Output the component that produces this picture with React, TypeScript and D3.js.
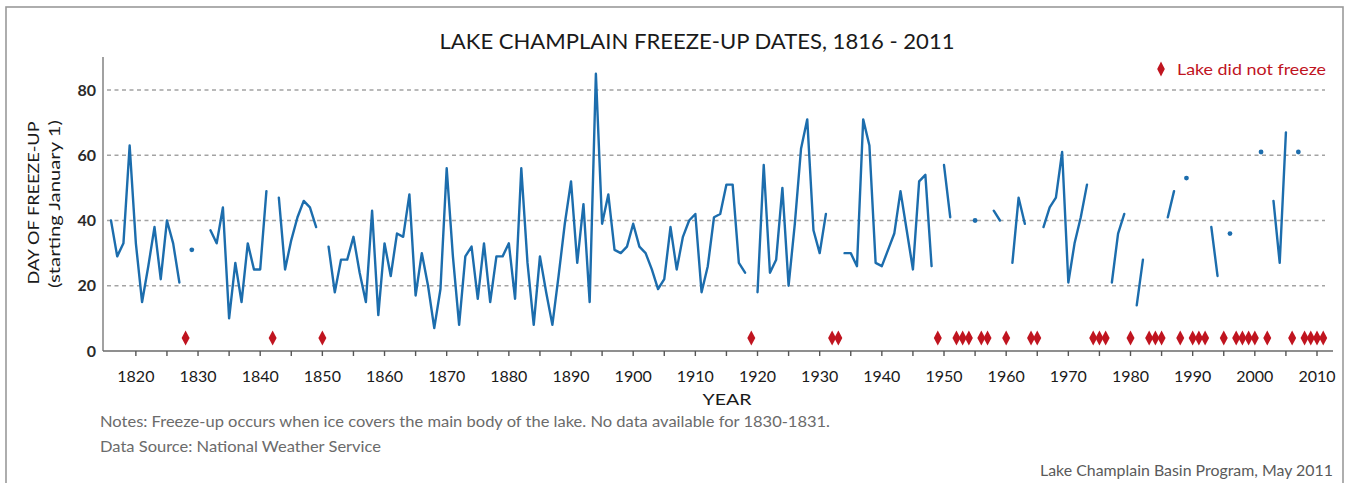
import React from "react";
import * as d3 from "d3";

// Years with a recorded freeze-up and the day of freeze-up (days after January 1)
const freezeYears = [
  1816, 1817, 1818, 1819, 1820, 1821, 1822, 1823, 1824, 1825, 1826, 1827, 1829,
  1832, 1833, 1834, 1835, 1836, 1837, 1838, 1839, 1840, 1841, 1843, 1844, 1845,
  1846, 1847, 1848, 1849, 1851, 1852, 1853, 1854, 1855, 1856, 1857, 1858, 1859,
  1860, 1861, 1862, 1863, 1864, 1865, 1866, 1867, 1868, 1869, 1870, 1871, 1872,
  1873, 1874, 1875, 1876, 1877, 1878, 1879, 1880, 1881, 1882, 1883, 1884, 1885,
  1886, 1887, 1888, 1889, 1890, 1891, 1892, 1893, 1894, 1895, 1896, 1897, 1898,
  1899, 1900, 1901, 1902, 1903, 1904, 1905, 1906, 1907, 1908, 1909, 1910, 1911,
  1912, 1913, 1914, 1915, 1916, 1917, 1918, 1920, 1921, 1922, 1923, 1924, 1925,
  1926, 1927, 1928, 1929, 1930, 1931, 1934, 1935, 1936, 1937, 1938, 1939, 1940,
  1941, 1942, 1943, 1944, 1945, 1946, 1947, 1948, 1950, 1951, 1955, 1958, 1959,
  1961, 1962, 1963, 1966, 1967, 1968, 1969, 1970, 1971, 1972, 1973, 1977, 1978,
  1979, 1981, 1982, 1986, 1987, 1989, 1993, 1994, 1996, 2001, 2003, 2004, 2005,
  2007,
];
const freezeDays = [
  40, 29, 33, 63, 33, 15, 26, 38, 22, 40, 33, 21, 31,
  37, 33, 44, 10, 27, 15, 33, 25, 25, 49, 47, 25, 34,
  41, 46, 44, 38, 32, 18, 28, 28, 35, 24, 15, 43, 11,
  33, 23, 36, 35, 48, 17, 30, 20, 7, 19, 56, 29, 8,
  29, 32, 16, 33, 15, 29, 29, 33, 16, 56, 27, 8, 29,
  18, 8, 23, 39, 52, 27, 45, 15, 85, 39, 48, 31, 30,
  32, 39, 32, 30, 25, 19, 22, 38, 25, 35, 40, 42, 18,
  26, 41, 42, 51, 51, 27, 24, 18, 57, 24, 28, 50, 20,
  39, 62, 71, 37, 30, 42, 30, 30, 26, 71, 63, 27, 26,
  31, 36, 49, 37, 25, 52, 54, 26, 57, 41, 40, 43, 40,
  27, 47, 39, 38, 44, 47, 61, 21, 33, 41, 51, 21, 36,
  42, 14, 28, 41, 49, 53, 38, 23, 36, 61, 46, 27, 67,
  61,
];
// Winters in which the lake did not freeze
const noFreezeYears = [
  1828, 1842, 1850, 1919, 1932, 1933, 1949, 1952, 1953, 1954, 1956, 1957, 1960,
  1964, 1965, 1974, 1975, 1976, 1980, 1983, 1984, 1985, 1988, 1990, 1991, 1992,
  1995, 1997, 1998, 1999, 2000, 2002, 2006, 2008, 2009, 2010, 2011,
];
const firstYear = 1816;
const lastYear = 2011;
const yTicks = [0, 20, 40, 60, 80];
const xLabelTicks = [1820, 1830, 1840, 1850, 1860, 1870, 1880, 1890, 1900, 1910, 1920, 1930, 1940, 1950, 1960, 1970, 1980, 1990, 2000, 2010];
const xMinorTicks = [1825, 1835, 1845, 1855, 1865, 1875, 1885, 1895, 1905, 1915, 1925, 1935, 1945, 1955, 1965, 1975, 1985, 1995, 2005];

const title = "LAKE CHAMPLAIN FREEZE-UP DATES, 1816 - 2011";
const legendLabel = "Lake did not freeze";
const yTitle1 = "DAY OF FREEZE-UP";
const yTitle2 = "(starting January 1)";
const xTitle = "YEAR";
const note1 = "Notes: Freeze-up occurs when ice covers the main body of the lake. No data available for 1830-1831.";
const note2 = "Data Source: National Weather Service";
const credit = "Lake Champlain Basin Program, May 2011";

const W = 1349;
const H = 483;
const FONT = "Lato, 'Open Sans', 'DejaVu Sans', sans-serif";
const BLUE = "#1c6dad";
const RED = "#c0141f";

const diamond = (cx: number, cy: number, hw: number, hh: number) =>
  `M${cx},${cy - hh}L${cx + hw},${cy}L${cx},${cy + hh}L${cx - hw},${cy}Z`;

export default function App() {
  const x = d3.scaleLinear().domain([1816, 2010]).range([111, 1317]);
  const y = d3.scaleLinear().domain([0, 80]).range([351, 90]);

  const byYear = new Map<number, number>();
  freezeYears.forEach((yr, i) => byYear.set(yr, freezeDays[i]));
  const series = d3.range(firstYear, lastYear + 1).map((yr) => ({
    year: yr,
    v: byYear.has(yr) ? (byYear.get(yr) as number) : null,
  }));

  const line = d3
    .line<{ year: number; v: number | null }>()
    .defined((d) => d.v !== null)
    .x((d) => x(d.year))
    .y((d) => y(d.v as number));

  const isolated = series.filter(
    (d) => d.v !== null && !byYear.has(d.year - 1) && !byYear.has(d.year + 1)
  );

  const axisLeft = 103;
  const axisRight = 1333;
  const gridRight = 1325;

  return (
    <svg
      width={W}
      height={H}
      style={{ position: "absolute", left: 0, top: 0, background: "#fff" }}
      fontFamily={FONT}
    >
      <rect x={0} y={0} width={W} height={H} fill="#fff" />
      <rect x={6} y={7} width={1337} height={520} fill="none" stroke="#9a9a9a" strokeWidth={1.6} />

      <text x={697} y={49} textAnchor="middle" fontSize={21} fill="#1a1a1a" textLength={515} lengthAdjust="spacingAndGlyphs">
        {title}
      </text>

      {/* gridlines */}
      {yTicks.filter((t) => t > 0).map((t) => (
        <line key={t} x1={axisLeft + 4} x2={gridRight} y1={y(t)} y2={y(t)} stroke="#a3a3a3" strokeWidth={1.4} strokeDasharray="4 3.5" />
      ))}

      {/* axes */}
      <line x1={axisLeft} x2={axisLeft} y1={57} y2={y(0)} stroke="#8a8a8a" strokeWidth={1.6} />
      <line x1={axisLeft} x2={axisRight} y1={y(0)} y2={y(0)} stroke="#6a6a6a" strokeWidth={1.6} />
      {[...xLabelTicks, ...xMinorTicks].map((t) => (
        <line key={t} x1={x(t)} x2={x(t)} y1={y(0)} y2={y(0) + 5} stroke="#555" strokeWidth={1.4} />
      ))}
      {yTicks.map((t) => (
        <text key={t} x={96} y={y(t)} dy="0.35em" textAnchor="end" fontSize={16} fontWeight="bold" fill="#2a2a2a">
          {t}
        </text>
      ))}
      {xLabelTicks.map((t) => (
        <text key={t} x={x(t)} y={382} textAnchor="middle" fontSize={16} fill="#1a1a1a">
          {t}
        </text>
      ))}

      <text x={727} y={405} textAnchor="middle" fontSize={16} fill="#1a1a1a" textLength={49} lengthAdjust="spacingAndGlyphs">
        {xTitle}
      </text>
      <text transform="translate(33,203) rotate(-90)" textAnchor="middle" dy="0.35em" fontSize={16} fill="#1a1a1a" textLength={163} lengthAdjust="spacingAndGlyphs">
        {yTitle1}
      </text>
      <text transform="translate(55,204) rotate(-90)" textAnchor="middle" dy="0.35em" fontSize={14.5} fill="#1a1a1a" textLength={168} lengthAdjust="spacingAndGlyphs">
        {yTitle2}
      </text>

      {/* data */}
      <path d={line(series) || ""} fill="none" stroke={BLUE} strokeWidth={2.4} strokeLinejoin="round" strokeLinecap="round" />
      {isolated.map((d) => (
        <circle key={d.year} cx={x(d.year)} cy={y(d.v as number)} r={2.4} fill={BLUE} />
      ))}
      {noFreezeYears.map((yr) => (
        <path key={yr} d={diamond(x(yr), y(4), 4, 7.5)} fill={RED} />
      ))}

      {/* legend */}
      <path d={diamond(1161, 69, 3.8, 7.5)} fill={RED} />
      <text x={1177} y={74.5} fontSize={16} fill={RED} textLength={149} lengthAdjust="spacingAndGlyphs">
        {legendLabel}
      </text>

      {/* notes */}
      <text x={100} y={427} fontSize={15} fill="#6b6b6b" textLength={730} lengthAdjust="spacingAndGlyphs">
        {note1}
      </text>
      <text x={100} y={452} fontSize={15} fill="#6b6b6b" textLength={281} lengthAdjust="spacingAndGlyphs">
        {note2}
      </text>
      <text x={1333} y={476} textAnchor="end" fontSize={15} fill="#5a5a5a" textLength={293} lengthAdjust="spacingAndGlyphs">
        {credit}
      </text>
    </svg>
  );
}
